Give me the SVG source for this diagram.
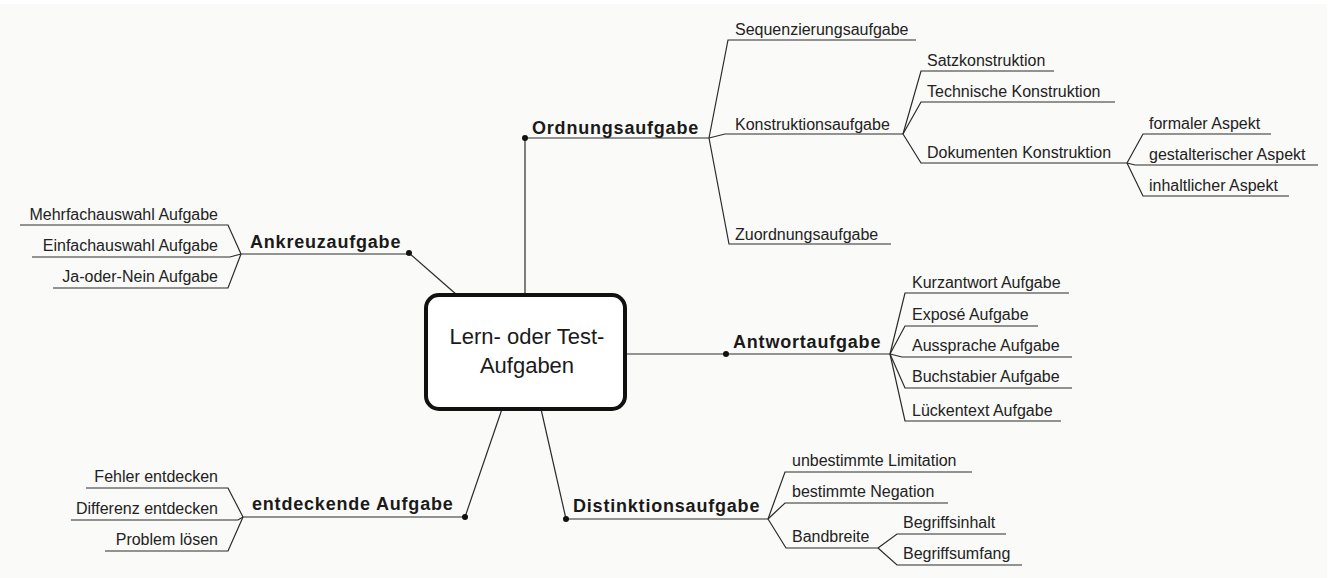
<svg xmlns="http://www.w3.org/2000/svg" width="1335" height="578" viewBox="0 0 1335 578">
<style>
.bg{fill:#fafaf8}
.ln{stroke:#2a2a2a;stroke-width:1.2;fill:none}
.t{font-family:"Liberation Sans",Arial,sans-serif;font-size:16px;fill:#222}
.r{text-anchor:end}
.b{font-family:"Liberation Sans",Arial,sans-serif;font-size:18px;font-weight:bold;letter-spacing:0.8px;fill:#1a1a1a}
.c{font-family:"Liberation Sans",Arial,sans-serif;font-size:22px;fill:#1a1a1a;text-anchor:middle}
.dot{fill:#111}
</style>
<rect width="1335" height="578" fill="#ffffff"/>
<rect class="bg" x="0" y="4" width="1327" height="574"/>
<g id="connectors">
<path class="ln" d="M525,138 V295"/>
<path class="ln" d="M409,253 L457,295"/>
<path class="ln" d="M625,354 H890"/>
<path class="ln" d="M541,409 L566,519"/>
<path class="ln" d="M502,409 L465,517"/>
<path class="ln" d="M525,138 H709"/>
<path class="ln" d="M709,138 L728,40 H916"/>
<path class="ln" d="M709,138 L725,134 H903"/>
<path class="ln" d="M709,138 L729,244 H891"/>
<path class="ln" d="M903,134 L921,71 H1054"/>
<path class="ln" d="M903,134 L921,102 H1115"/>
<path class="ln" d="M903,134 L921,163 H1127"/>
<path class="ln" d="M1127,163 L1143,134 H1271"/>
<path class="ln" d="M1127,163 L1135,165 H1318"/>
<path class="ln" d="M1127,163 L1143,196 H1289"/>
<path class="ln" d="M409,254 H241"/>
<path class="ln" d="M241,254 L228,225 H20"/>
<path class="ln" d="M241,254 L230,257 H32"/>
<path class="ln" d="M241,254 L228,288 H53"/>
<path class="ln" d="M890,354 L905,293 H1069"/>
<path class="ln" d="M890,354 L905,326 H1038"/>
<path class="ln" d="M890,354 L902,357 H1072"/>
<path class="ln" d="M890,354 L905,388 H1072"/>
<path class="ln" d="M890,354 L905,421 H1061"/>
<path class="ln" d="M566,519 H768"/>
<path class="ln" d="M768,519 L785,472 H972"/>
<path class="ln" d="M768,519 L785,503 H948"/>
<path class="ln" d="M768,519 L786,548 H878"/>
<path class="ln" d="M878,548 L897,534 H1006"/>
<path class="ln" d="M878,548 L897,565 H1022"/>
<path class="ln" d="M465,517 H243"/>
<path class="ln" d="M243,517 L228,488 H86"/>
<path class="ln" d="M243,517 L238,520 H71"/>
<path class="ln" d="M243,517 L228,551 H105"/>
</g>
<g id="center">
<rect x="426" y="295" width="199" height="114" rx="13" ry="13" fill="#ffffff" stroke="#111" stroke-width="4"/>
<text class="c" x="527" y="344">Lern- oder Test-</text>
<text class="c" x="527" y="373">Aufgaben</text>
</g>
<g id="ordnungsaufgabe">
<circle class="dot" cx="525" cy="138" r="3"/>
<text class="b" x="532" y="134">Ordnungsaufgabe</text>
</g>
<g id="sequenzierungsaufgabe"><text class="t" x="735" y="35">Sequenzierungsaufgabe</text></g>
<g id="konstruktionsaufgabe"><text class="t" x="735" y="130">Konstruktionsaufgabe</text></g>
<g id="zuordnungsaufgabe"><text class="t" x="735" y="240">Zuordnungsaufgabe</text></g>
<g id="satzkonstruktion"><text class="t" x="927" y="66">Satzkonstruktion</text></g>
<g id="technische"><text class="t" x="927" y="97">Technische Konstruktion</text></g>
<g id="dokumenten"><text class="t" x="927" y="158">Dokumenten Konstruktion</text></g>
<g id="formaler"><text class="t" x="1149" y="129">formaler Aspekt</text></g>
<g id="gestalterischer"><text class="t" x="1149" y="160">gestalterischer Aspekt</text></g>
<g id="inhaltlicher"><text class="t" x="1149" y="191">inhaltlicher Aspekt</text></g>
<g id="ankreuzaufgabe">
<circle class="dot" cx="409" cy="253" r="3"/>
<text class="b" x="250" y="248">Ankreuzaufgabe</text>
</g>
<g id="mehrfach"><text class="t r" x="218" y="220">Mehrfachauswahl Aufgabe</text></g>
<g id="einfach"><text class="t r" x="218" y="251">Einfachauswahl Aufgabe</text></g>
<g id="janein"><text class="t r" x="218" y="282">Ja-oder-Nein Aufgabe</text></g>
<g id="antwortaufgabe">
<circle class="dot" cx="726" cy="354" r="3"/>
<text class="b" x="733" y="348">Antwortaufgabe</text>
</g>
<g id="kurzantwort"><text class="t" x="912" y="288">Kurzantwort Aufgabe</text></g>
<g id="expose"><text class="t" x="912" y="320">Exposé Aufgabe</text></g>
<g id="aussprache"><text class="t" x="912" y="351">Aussprache Aufgabe</text></g>
<g id="buchstabier"><text class="t" x="912" y="382">Buchstabier Aufgabe</text></g>
<g id="lueckentext"><text class="t" x="912" y="416">Lückentext Aufgabe</text></g>
<g id="distinktionsaufgabe">
<circle class="dot" cx="566" cy="519" r="3"/>
<text class="b" x="573" y="512">Distinktionsaufgabe</text>
</g>
<g id="unbestimmte"><text class="t" x="792" y="466">unbestimmte Limitation</text></g>
<g id="bestimmte"><text class="t" x="792" y="497">bestimmte Negation</text></g>
<g id="bandbreite"><text class="t" x="792" y="542">Bandbreite</text></g>
<g id="begriffsinhalt"><text class="t" x="903" y="528">Begriffsinhalt</text></g>
<g id="begriffsumfang"><text class="t" x="903" y="559">Begriffsumfang</text></g>
<g id="entdeckende">
<circle class="dot" cx="465" cy="517" r="3"/>
<text class="b" x="252" y="510">entdeckende Aufgabe</text>
</g>
<g id="fehler"><text class="t r" x="218" y="482">Fehler entdecken</text></g>
<g id="differenz"><text class="t r" x="218" y="514">Differenz entdecken</text></g>
<g id="problem"><text class="t r" x="218" y="545">Problem lösen</text></g>
</svg>
